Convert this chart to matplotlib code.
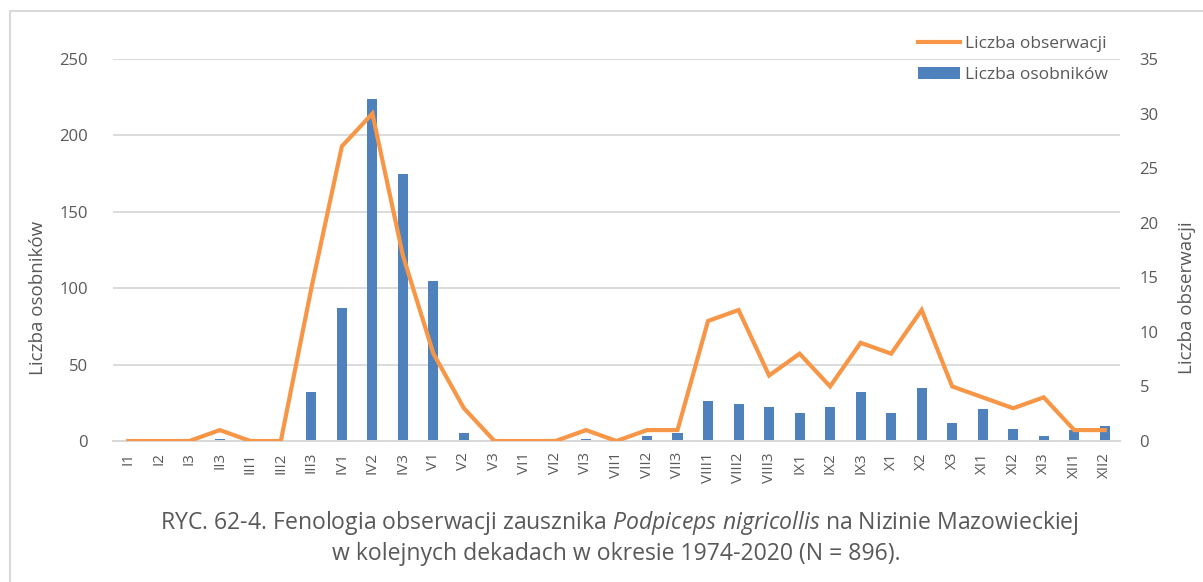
import matplotlib
matplotlib.use("Agg")
import matplotlib.pyplot as plt
from matplotlib.patches import Rectangle
import numpy as np

categories = ["I1", "I2", "I3", "II3", "III1", "III2", "III3", "IV1", "IV2", "IV3",
              "V1", "V2", "V3", "VI1", "VI2", "VI3", "VII1", "VII2", "VII3",
              "VIII1", "VIII2", "VIII3", "IX1", "IX2", "IX3", "X1", "X2", "X3",
              "XI1", "XI2", "XI3", "XII1", "XII2"]
osobnikow = [0, 0, 0, 1, 0, 0, 32, 87, 224, 175,
             105, 5, 0, 0, 0, 1, 0, 3, 5,
             26, 24, 22, 18, 22, 32, 18, 35, 12,
             21, 8, 3, 7, 10]
obserwacji = [0, 0, 0, 1, 0, 0, 14, 27, 30, 17,
              8, 3, 0, 0, 0, 1, 0, 1, 1,
              11, 12, 6, 8, 5, 9, 8, 12, 5,
              4, 3, 4, 1, 1]

BLUE = "#4F81BD"
ORANGE = "#F79646"
GRID = "#D9D9D9"
TXT = "#595959"

plt.rcParams['font.family'] = ['Open Sans', 'DejaVu Sans']
plt.rcParams['mathtext.fontset'] = 'custom'
plt.rcParams['mathtext.rm'] = 'Open Sans'
plt.rcParams['mathtext.it'] = 'Open Sans:italic'

fig = plt.figure(figsize=(12.03, 5.82), dpi=100)
fig.patches.append(Rectangle((10/1203, -0.1), 1.2, 1 - 11/582 + 0.1, transform=fig.transFigure,
                             fill=False, edgecolor="#D9D9D9", linewidth=1.5))
ax = fig.add_axes([113/1203, 1 - 441/582, 1007/1203, 382/582])
ax2 = ax.twinx()

x = np.arange(len(categories))
bars = ax.bar(x, osobnikow, width=0.33, color=BLUE, zorder=2, label="Liczba osobników")
line, = ax2.plot(x, obserwacji, color=ORANGE, linewidth=3, solid_joinstyle='miter',
                 zorder=3, label="Liczba obserwacji")

ax.set_xlim(-0.5, len(categories) - 0.5)
ax.set_ylim(0, 250)
ax.set_yticks(np.arange(0, 251, 50))
ax2.set_ylim(0, 35)
ax2.set_yticks(np.arange(0, 36, 5))

ax.yaxis.grid(True, color=GRID, linewidth=1.3, zorder=0)
ax.set_axisbelow(True)
for a in (ax, ax2):
    for s in ("top", "left", "right"):
        a.spines[s].set_visible(False)
    a.spines["bottom"].set_color(GRID)
    a.spines["bottom"].set_linewidth(1.3)

ax.set_xticks(x)
ax.set_xticklabels(categories, rotation=90, fontsize=11, color=TXT)
ax.tick_params(axis='x', length=0, pad=8)
ax.tick_params(axis='y', length=0, pad=18, labelsize=12, labelcolor=TXT)
ax2.tick_params(axis='y', length=0, pad=14, labelsize=12, labelcolor=TXT)

ax.set_ylabel("Liczba osobników", fontsize=13.5, color=TXT)
ax.yaxis.set_label_coords(-0.066, 0.374)
ax2.set_ylabel("Liczba obserwacji", fontsize=13.5, color=TXT, rotation=90)
ax2.yaxis.set_label_coords(1.058, 0.374)

leg = ax2.legend([line, bars], ["Liczba obserwacji", "Liczba osobników"],
                 loc="upper right", bbox_to_anchor=(0.995, 1.078), frameon=False,
                 fontsize=12.5, handlelength=2.4, handletextpad=0.3,
                 labelspacing=0.85, borderaxespad=0)
for t in leg.get_texts():
    t.set_color(TXT)

fig.text(0.515, 1 - 523/582,
         "RYC. 62-4. Fenologia obserwacji zausznika $\\it{Podpiceps\\ nigricollis}$ na Nizinie Mazowieckiej",
         ha="center", va="center", fontsize=16.6, color=TXT)
fig.text(0.512, 1 - 554/582,
         "w kolejnych dekadach w okresie 1974-2020 (N = 896).",
         ha="center", va="center", fontsize=16.6, color=TXT)

fig.savefig("out.png", dpi=100)
